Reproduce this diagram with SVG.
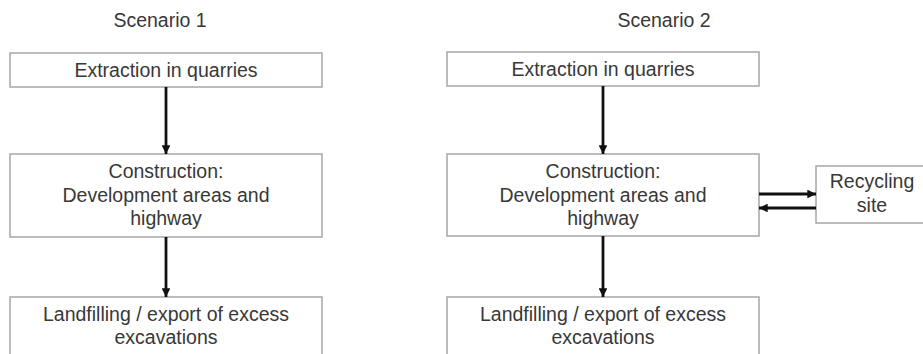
<svg xmlns="http://www.w3.org/2000/svg" width="923" height="354" viewBox="0 0 923 354">
  <style>
    .box { fill: #ffffff; stroke: #a6a6a6; stroke-width: 1.5; }
    .lbl { font-family: "Liberation Sans", Arial, sans-serif; font-size: 19.5px; fill: #383838; text-anchor: middle; }
    .edge { stroke: #111111; stroke-width: 2.8; fill: none; }
  </style>
  <defs>
    <marker id="arrow" viewBox="0 0 10 10" refX="10" refY="5" markerWidth="3.1" markerHeight="3.1" orient="auto" markerUnits="strokeWidth">
      <path d="M0,0 L10,5 L0,10 Z" fill="#111111"/>
    </marker>
  </defs>
  <rect width="923" height="354" fill="#ffffff"/>

  <!-- Column titles -->
  <text class="lbl" x="160" y="27">Scenario 1</text>
  <text class="lbl" x="664" y="27">Scenario 2</text>

  <!-- Scenario 1 -->
  <g id="s1-extraction">
    <rect class="box" x="10" y="53" width="312" height="34"/>
    <text class="lbl" x="166" y="77">Extraction in quarries</text>
  </g>
  <g id="s1-construction">
    <rect class="box" x="10" y="154" width="312" height="83"/>
    <text class="lbl" x="166" y="178">Construction:</text>
    <text class="lbl" x="166" y="202">Development areas and</text>
    <text class="lbl" x="166" y="225">highway</text>
  </g>
  <g id="s1-landfill">
    <rect class="box" x="10" y="297" width="312" height="70"/>
    <text class="lbl" x="166" y="321">Landfilling / export of excess</text>
    <text class="lbl" x="166" y="344">excavations</text>
  </g>

  <!-- Scenario 2 -->
  <g id="s2-extraction">
    <rect class="box" x="447" y="52" width="312" height="34"/>
    <text class="lbl" x="603" y="76">Extraction in quarries</text>
  </g>
  <g id="s2-construction">
    <rect class="box" x="447" y="154" width="312" height="82"/>
    <text class="lbl" x="603" y="178">Construction:</text>
    <text class="lbl" x="603" y="202">Development areas and</text>
    <text class="lbl" x="603" y="225">highway</text>
  </g>
  <g id="s2-landfill">
    <rect class="box" x="447" y="297" width="312" height="70"/>
    <text class="lbl" x="603" y="321">Landfilling / export of excess</text>
    <text class="lbl" x="603" y="344">excavations</text>
  </g>
  <g id="s2-recycling">
    <rect class="box" x="816" y="166" width="115" height="57"/>
    <text class="lbl" x="872" y="188">Recycling</text>
    <text class="lbl" x="872" y="212">site</text>
  </g>

  <!-- Connectors -->
  <g id="connectors">
    <line class="edge" x1="166" y1="87" x2="166" y2="154" marker-end="url(#arrow)"/>
    <line class="edge" x1="166" y1="237" x2="166" y2="297" marker-end="url(#arrow)"/>
    <line class="edge" x1="603" y1="86" x2="603" y2="154" marker-end="url(#arrow)"/>
    <line class="edge" x1="603" y1="236" x2="603" y2="297" marker-end="url(#arrow)"/>
    <line class="edge" x1="759" y1="194" x2="816" y2="194" marker-end="url(#arrow)"/>
    <line class="edge" x1="816" y1="208" x2="759" y2="208" marker-end="url(#arrow)"/>
  </g>
</svg>
